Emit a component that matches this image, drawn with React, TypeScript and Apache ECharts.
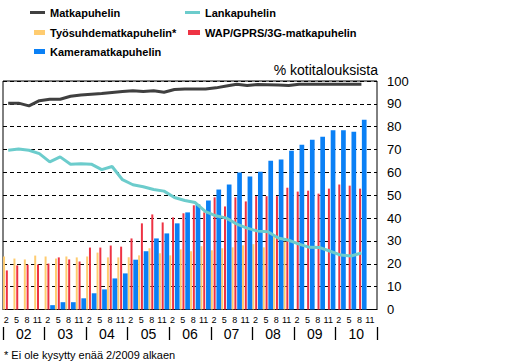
import React, { useEffect, useRef } from "react";
import * as echarts from "echarts";

const months = [
  "2","5","8","11","2","5","8","11","2","5","8","11",
  "2","5","8","11","2","5","8","11","2","5","8","11",
  "2","5","8","11","2","5","8","11","2","5","8","11",
];
const years = ["02", "03", "04", "05", "06", "07", "08", "09", "10"];

const matkapuhelin = [
  90.3, 90.3, 89.1, 91.4, 92.0, 92.0, 93.3, 93.9, 94.2, 94.5, 95.0, 95.4,
  95.7, 95.4, 95.7, 95.1, 96.3, 96.5, 96.5, 96.5, 97.0, 97.8, 98.6, 98.0,
  98.5, 98.4, 98.2, 98.0, 98.6, 98.6, 98.6, 98.6, 98.6, 98.6, 98.6, null,
];
const lankapuhelin = [
  69.7, 70.2, 69.7, 68.2, 64.6, 66.8, 63.6, 63.8, 63.6, 61.2, 62.6, 56.8,
  54.6, 53.7, 52.5, 51.8, 49.0, 47.7, 46.8, 42.8, 41.0, 40.0, 37.4, 35.6,
  34.3, 34.0, 31.3, 30.3, 28.6, 27.2, 27.1, 25.5, 23.8, 23.4, 24.7, null,
];
const tyosuhde = [
  23.2, 22.3, 21.9, 23.6, 23.2, 22.3, 23.2, 22.8, 23.2, 24.9, 22.8, 22.8,
  22.9, 23.7, 26.8, 24.6, 23.7, 26.3, 25.5, 27.7, 25.9, 26.8, 27.2, 28.1,
  28.6, 27.2, 32.0, 29.7, null, null, null, null, null, null, null, null,
];
const wap = [
  17.1, 19.3, 19.6, 19.7, 20.1, 22.8, 21.9, 21.0, 27.1, 27.1, 28.0, 27.5,
  31.1, 37.7, 41.6, 38.1, 40.3, 42.1, 45.6, 42.5, 49.1, 45.1, 49.1, 47.3,
  49.6, 49.6, 49.6, 53.3, 51.6, 52.0, 50.7, 52.9, 54.7, 54.2, 52.9, null,
];
const kamera = [
  null, null, null, null, 1.9, 3.2, 3.2, 4.9, 7.1, 8.8, 13.6, 15.8,
  21.8, 25.5, 31.1, 33.3, 37.7, 42.5, 46.0, 47.7, 52.5, 54.7, 60.0, 58.2,
  60.3, 65.1, 65.6, 69.5, 72.1, 74.3, 75.6, 78.5, 78.5, 77.8, 83.0, null,
];

const FONT = "'Liberation Sans', Arial, sans-serif";

export default function App() {
  const ref = useRef<HTMLDivElement>(null);
  useEffect(() => {
    if (!ref.current) return;
    const chart = echarts.init(ref.current, undefined, { renderer: "svg" });
    const legendText = { fontSize: 11, fontWeight: "bold" as const, fontFamily: FONT, color: "#000" };
    const mkLegend = (name: string, left: number, top: number, w: number, h: number) => ({
      data: [name],
      left,
      top,
      padding: 0,
      icon: "rect",
      itemWidth: w,
      itemHeight: h,
      selectedMode: false,
      textStyle: legendText,
    });
    chart.setOption({
      animation: false,
      textStyle: { fontFamily: FONT },
      title: {
        text: "% kotitalouksista",
        right: 132,
        top: 63,
        padding: 0,
        textStyle: { fontSize: 14, fontWeight: "normal", color: "#000", fontFamily: FONT },
      },
      legend: [
        mkLegend("Matkapuhelin", 30, 7, 15, 3),
        mkLegend("Lankapuhelin", 185, 7, 15, 3),
        mkLegend("Työsuhdematkapuhelin*", 34, 27, 11, 5),
        mkLegend("WAP/GPRS/3G-matkapuhelin", 188, 27, 12, 5),
        mkLegend("Kameramatkapuhelin", 34, 46, 11, 5),
      ],
      graphic: [
        {
          type: "text",
          left: 4,
          top: 349,
          style: { text: "* Ei ole kysytty enää 2/2009 alkaen", fontSize: 11, fill: "#000", fontFamily: FONT },
        },
      ],
      grid: {
        left: 3,
        right: 133,
        top: 81,
        bottom: 51.5,
        show: true,
        borderColor: "#000",
        borderWidth: 1,
        backgroundColor: "transparent",
      },
      xAxis: [
        {
          type: "category",
          data: months,
          position: "bottom",
          axisLine: { show: true, lineStyle: { color: "#000", width: 1 } },
          axisTick: { show: false },
          axisLabel: { interval: 0, fontSize: 9, color: "#000", margin: 6, padding: [0, 4, 0, 0], fontFamily: FONT },
          splitLine: { show: false },
        },
        {
          type: "category",
          data: years,
          position: "bottom",
          offset: 17.5,
          axisLine: { show: false },
          axisTick: { show: true, length: 13, lineStyle: { color: "#000", width: 1.3 } },
          axisLabel: { interval: 0, fontSize: 14, color: "#000", margin: 0, fontFamily: FONT },
          splitLine: { show: false },
        },
      ],
      yAxis: {
        type: "value",
        position: "right",
        min: 0,
        max: 100,
        interval: 10,
        axisLine: { show: false },
        axisTick: { show: false },
        axisLabel: { fontSize: 13, color: "#000", margin: 10, fontFamily: FONT },
        splitLine: { show: true, lineStyle: { color: "#000", type: [4, 3], width: 1 } },
      },
      series: [
        {
          name: "Työsuhdematkapuhelin*",
          type: "bar",
          data: tyosuhde,
          barWidth: 2,
          barGap: "40%",
          itemStyle: { color: "#FFCC70" },
        },
        {
          name: "WAP/GPRS/3G-matkapuhelin",
          type: "bar",
          data: wap,
          barWidth: 2,
          barGap: "40%",
          itemStyle: { color: "#EE3344" },
        },
        {
          name: "Kameramatkapuhelin",
          type: "bar",
          data: kamera,
          barWidth: 4.7,
          barGap: "40%",
          itemStyle: { color: "#0A80F5" },
        },
        {
          name: "Matkapuhelin",
          type: "line",
          data: matkapuhelin,
          showSymbol: false,
          color: "#404040",
          lineStyle: { color: "#404040", width: 3 },
          itemStyle: { color: "#404040" },
        },
        {
          name: "Lankapuhelin",
          type: "line",
          data: lankapuhelin,
          showSymbol: false,
          color: "#6CCCCC",
          lineStyle: { color: "#6CCCCC", width: 3 },
          itemStyle: { color: "#6CCCCC" },
        },
      ],
    });
    return () => chart.dispose();
  }, []);
  return <div ref={ref} style={{ width: 510, height: 361, position: "absolute", left: 0, top: 0 }} />;
}
